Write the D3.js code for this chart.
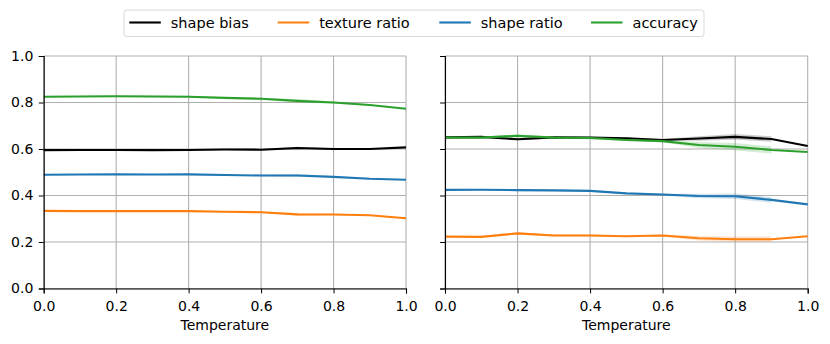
<!DOCTYPE html>
<html>
<head>
<meta charset="utf-8">
<script src="https://cdn.jsdelivr.net/npm/d3@7"></script>
<style>
  body { margin: 0; background: #fff; }
  text { font-family: "DejaVu Sans", sans-serif; }
</style>
</head>
<body>
<script>
const temperature = [0.0, 0.1, 0.2, 0.3, 0.4, 0.5, 0.6, 0.7, 0.8, 0.9, 1.0]
const xTicks = [0.0, 0.2, 0.4, 0.6, 0.8, 1.0]
const yTicks = [0.0, 0.2, 0.4, 0.6, 0.8, 1.0]

const seriesNames = ['shape bias', 'texture ratio', 'shape ratio', 'accuracy']
const seriesColors = ['#000000', '#ff7f0e', '#1f77b4', '#2ca02c']

// left panel
const leftShapeBias = [0.595, 0.596, 0.596, 0.595, 0.596, 0.598, 0.597, 0.604, 0.600, 0.600, 0.607]
const leftTextureRatio = [0.334, 0.333, 0.333, 0.333, 0.333, 0.330, 0.328, 0.319, 0.318, 0.315, 0.302]
const leftShapeRatio = [0.489, 0.490, 0.491, 0.490, 0.491, 0.488, 0.486, 0.486, 0.480, 0.472, 0.468]
const leftAccuracy = [0.825, 0.826, 0.827, 0.826, 0.825, 0.820, 0.816, 0.807, 0.800, 0.789, 0.773]
const leftSpread = [0.002, 0.002, 0.002, 0.003, 0.003, 0.002, 0.003, 0.006, 0.003, 0.003, 0]

// right panel
const rightShapeBias = [0.650, 0.652, 0.642, 0.650, 0.649, 0.646, 0.639, 0.645, 0.652, 0.643, 0.613]
const rightTextureRatio = [0.223, 0.222, 0.237, 0.228, 0.228, 0.225, 0.228, 0.216, 0.212, 0.212, 0.225]
const rightShapeRatio = [0.424, 0.425, 0.423, 0.422, 0.420, 0.409, 0.404, 0.398, 0.397, 0.381, 0.362]
const rightAccuracy = [0.649, 0.649, 0.657, 0.649, 0.647, 0.639, 0.634, 0.617, 0.610, 0.596, 0.587]
const rightSpread = [0.003, 0.003, 0.005, 0.004, 0.004, 0.003, 0.004, 0.010, 0.012, 0.012, 0]

const svgFrame = { width: 830, height: 344 }
const fontSize = 14
const legendFontSize = 14.5

const svg = d3.select('body').append('svg')
  .attr('width', svgFrame.width)
  .attr('height', svgFrame.height)

const y = d3.scaleLinear().domain([0, 1]).range([288.5, 56])

function drawPanel(x0, x1, series, spread, showLabels) {
  const x = d3.scaleLinear().domain([0, 1]).range([x0, x1])
  const g = svg.append('g')

  // grid
  g.selectAll('.vgrid').data(xTicks).enter().append('line')
    .attr('x1', d => x(d)).attr('x2', d => x(d))
    .attr('y1', y(0)).attr('y2', y(1))
    .attr('stroke', '#b0b0b0').attr('stroke-width', 1.1)
  g.selectAll('.hgrid').data(yTicks).enter().append('line')
    .attr('x1', x(0)).attr('x2', x(1))
    .attr('y1', d => y(d)).attr('y2', d => y(d))
    .attr('stroke', '#b0b0b0').attr('stroke-width', 1.1)

  // bands and lines
  series.forEach((vals, i) => {
    const pts = temperature.map((t, j) => ({ t: t, v: vals[j], s: spread[j] * (i === 3 ? 1.3 : 1) }))
    const area = d3.area().x(d => x(d.t)).y0(d => y(d.v - d.s)).y1(d => y(d.v + d.s))
    g.append('path').datum(pts.slice(0, 10))
      .attr('d', area)
      .attr('fill', seriesColors[i]).attr('fill-opacity', 0.2)
    const line = d3.line().x(d => x(d.t)).y(d => y(d.v))
    g.append('path').datum(pts)
      .attr('d', line)
      .attr('fill', 'none')
      .attr('stroke', seriesColors[i]).attr('stroke-width', 2.1)
      .attr('stroke-linejoin', 'round')
  })

  // axes
  const xAxis = d3.axisBottom(x).tickValues(xTicks).tickFormat(d3.format('.1f')).tickSizeOuter(0).tickSize(4.9).tickPadding(7.2)
  const xg = g.append('g').attr('transform', `translate(0,${y(0)})`).call(xAxis)
  xg.attr('font-size', fontSize).attr('font-family', 'DejaVu Sans')
  xg.select('.domain').attr('stroke', '#000').attr('stroke-width', 1.1)
  xg.selectAll('text').attr('fill', '#000')

  const yAxis = d3.axisLeft(y).tickValues(yTicks).tickFormat(showLabels ? d3.format('.1f') : () => '').tickSizeOuter(0).tickSize(4.9).tickPadding(5.5)
  const yg = g.append('g').attr('transform', `translate(${x0},0)`).call(yAxis)
  yg.attr('font-size', fontSize).attr('font-family', 'DejaVu Sans')
  yg.select('.domain').attr('stroke', '#000').attr('stroke-width', 1.1)
  yg.selectAll('text').attr('fill', '#000')

  g.append('text')
    .attr('x', (x0 + x1) / 2).attr('y', 329.5)
    .attr('text-anchor', 'middle').attr('font-size', fontSize)
    .text('Temperature')
}

drawPanel(43.7, 406, [leftShapeBias, leftTextureRatio, leftShapeRatio, leftAccuracy], leftSpread, true)
drawPanel(445, 807.7, [rightShapeBias, rightTextureRatio, rightShapeRatio, rightAccuracy], rightSpread, false)

// legend
const legend = svg.append('g')
legend.append('rect')
  .attr('x', 124).attr('y', 10).attr('width', 580).attr('height', 26.5)
  .attr('rx', 3).attr('fill', '#fff').attr('stroke', '#d9d9d9').attr('stroke-width', 1)
const legendX = [129.3, 277.7, 439.3, 591]
seriesNames.forEach((name, i) => {
  legend.append('line')
    .attr('x1', legendX[i]).attr('x2', legendX[i] + 31.5)
    .attr('y1', 22.5).attr('y2', 22.5)
    .attr('stroke', seriesColors[i]).attr('stroke-width', 2.1)
  legend.append('text')
    .attr('x', legendX[i] + 41.5).attr('y', 27.8)
    .attr('font-size', legendFontSize)
    .text(name)
})
</script>
</body>
</html>
